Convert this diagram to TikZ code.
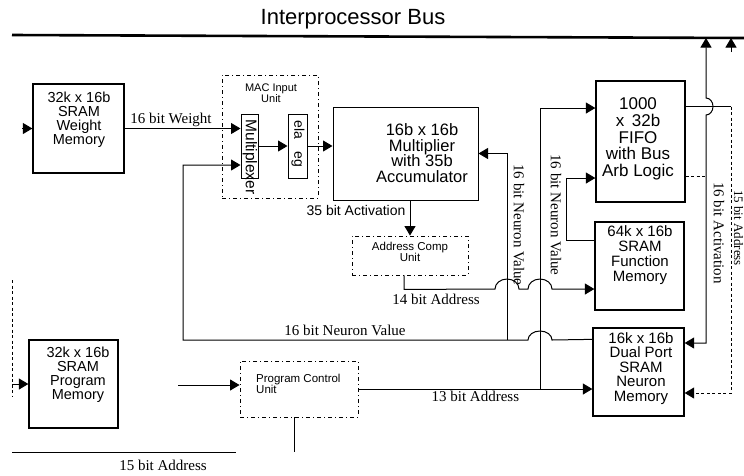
\documentclass[tikz,border=0pt]{standalone}
\usepackage{fontspec}
\setmainfont{Liberation Serif}
\newfontfamily\arial{Liberation Sans}
\usetikzlibrary{arrows.meta,positioning,calc}
\tikzset{
  unit/.style={draw,line width=1.3pt,inner sep=0pt},
  ctrlunit/.style={draw,line width=0.9pt,inner sep=0pt,dash pattern=on 4pt off 3pt on 1pt off 3pt},
  memtext/.style={font=\arial\fontsize{14.5}{14}\selectfont,align=center,inner sep=0pt},
  bigtext/.style={font=\arial\fontsize{16.5}{15.8}\selectfont,align=center,inner sep=0pt},
  smalltext/.style={font=\arial\fontsize{11}{11}\selectfont,align=center,inner sep=0pt},
  wire/.style={line width=1pt},
  sig/.style={wire,-{Triangle[length=9.5pt,width=11pt]}},
  bisig/.style={wire,{Triangle[length=9.5pt,width=11pt]}-{Triangle[length=9.5pt,width=11pt]}},
  buslabel/.style={font=\fontsize{15}{15}\selectfont,inner sep=1pt},
  thinbus/.style={wire,dash pattern=on 3pt off 2.5pt}
}
\begin{document}
\begin{tikzpicture}[x=1pt,y=-1pt]
\useasboundingbox (0,0) rectangle (744,475);
% interprocessor bus
\coordinate (busl) at (12,35);
\coordinate (busr) at (744,38);
\draw[line width=2.6pt] (busl) -- (busr);
\node[font=\arial\fontsize{22}{22}\selectfont] (bustitle) at (353,19) {Interprocessor Bus};

% memories and units
\node[unit,minimum width=91pt,minimum height=89pt] (wm) at (78.5,128.5) {};
\node[memtext,anchor=north] (wmtxt) at (79,92) {32k x 16b\\SRAM\\Weight\\Memory};
\node[unit,minimum width=89pt,minimum height=88pt] (pm) at (73.5,384) {};
\node[memtext,anchor=north] (pmtxt) at (78,347) {32k x 16b\\SRAM\\Program\\Memory};
\node[ctrlunit,minimum width=96pt,minimum height=123pt] (mac) at (270,136.5) {};
\node[smalltext] (mactxt) at (271,93) {MAC Input\\Unit};
\node[unit,line width=1pt,minimum width=17pt,minimum height=64pt] (mux) at (249.5,146) {};
\node[font=\arial\fontsize{15.5}{15.5}\selectfont,rotate=-90,inner sep=0pt] (muxtxt) at (250,157) {Multiplexer};
\node[unit,line width=1pt,minimum width=19pt,minimum height=64pt] (reg) at (297.5,146) {};
\node[font=\arial\fontsize{14}{14}\selectfont,rotate=-90,inner sep=0pt] (regtxt) at (298,144) {ela\hspace{12pt}eg};
\node[unit,line width=1pt,minimum width=145pt,minimum height=93pt] (mult) at (405.5,153.5) {};
\node[bigtext] (multtxt) at (422,153) {16b x 16b\\Multiplier\\with 35b\\Accumulator};
\node[ctrlunit,minimum width=116pt,minimum height=39pt] (acu) at (410,255.5) {};
\node[smalltext,font=\arial\fontsize{11.5}{11}\selectfont] (acutxt) at (410,252) {Address Comp\\Unit};
\node[ctrlunit,minimum width=118pt,minimum height=56pt] (pcu) at (299,389) {};
\node[smalltext,font=\arial\fontsize{11.5}{11}\selectfont,align=left,anchor=north west] (pcutxt) at (256,374) {Program Control\\Unit};
\node[unit,minimum width=89pt,minimum height=121pt] (fifo) at (640.5,141.5) {};
\node[bigtext,font=\arial\fontsize{17}{16.7}\selectfont] (fifotxt) at (638,139) {1000\\x\, 32b\\FIFO\\with Bus\\Arb Logic};
\node[unit,minimum width=89pt,minimum height=88pt] (fm) at (639.5,266) {};
\node[memtext,font=\arial\fontsize{15}{15}\selectfont,anchor=north] (fmtxt) at (640,225) {64k x 16b\\SRAM\\Function\\Memory};
\node[unit,minimum width=91pt,minimum height=88pt] (dp) at (638.5,372) {};
\node[memtext,font=\arial\fontsize{15}{14.5}\selectfont,anchor=north] (dptxt) at (641,332) {16k x 16b\\Dual Port\\SRAM\\Neuron\\Memory};

% weights into the MAC
\coordinate (wmin) at (22,128.5);
\draw[sig] (wmin) -- (wm.west);
\draw[sig] (wm.east) -- ($(mux.west)+(0,-17.5)$) node[buslabel,pos=0.4,above=0pt] (wlbl) {16 bit Weight};
\draw[sig] (mux.east) -- (reg.west);
\draw[sig] (reg.east) -- (reg.east -| mult.west);
\draw[sig] (acu.north |- mult.south) -- (acu.north);
\node[font=\arial\fontsize{14}{14}\selectfont,inner sep=0pt] (actout) at (356,210) {35 bit Activation};

% 14 bit address to function memory
\draw[sig] ($(acu.south)+(-6,0)$) -- ++(0,14) -- (495,289)
  arc[start angle=180,end angle=0,x radius=12pt,y radius=10pt] -- (528,289)
  arc[start angle=180,end angle=0,x radius=12pt,y radius=10pt] -- ($(fm.west)+(0,23)$);
\node[buslabel] (adr14) at (436,299) {14 bit Address};

% 13 bit address
\draw[sig] (pcu.east) -- (pcu.east -| dp.west) node[buslabel,pos=0.5,below=1pt] (adr13) {13 bit Address};
\coordinate (adrj) at (540,389);
\draw[sig] (adrj) |- ($(fifo.west)+(0,-33.5)$);

% function memory to fifo
\draw[sig] ($(fm.west)+(0,-26)$) -- (566,240) |- ($(fifo.west)+(0,36.5)$);
\node[buslabel,rotate=-90] (nvlbl2) at (556,215) {16 bit Neuron Value};

% neuron value loop
\coordinate (nvj) at (507,340);
\draw[sig] ($(dp.north west)+(0,12)$) -- (552,340)
  arc[start angle=0,end angle=180,x radius=12pt,y radius=9pt] -- (nvj) -- (183,340) -- (183,165) -- ($(mux.west)+(0,19)$);
\draw[sig] (nvj) |- (mult.east);
\node[buslabel] (nvlbl) at (345,330) {16 bit Neuron Value};
\node[buslabel,rotate=-90] (nvlbl1) at (519,225) {16 bit Neuron Value};

% fifo and bus taps
\coordinate (fifoj) at (731,106.5);
\coordinate (tapa) at (706,38);
\coordinate (tapb) at (731,38);
\coordinate (tapbin) at (731,52);
\draw[wire] ($(fifo.east)+(0,-35)$) -- (fifoj);
\draw[sig,thinbus] (fifoj) |- ($(dp.east)+(0,21)$);
\draw[bisig] ($(dp.east)+(0,-29)$) -| (706,115)
  arc[start angle=-90,end angle=90,x radius=7pt,y radius=8.5pt] -- (tapa);
\draw[sig] (tapbin) -- (tapb);
\draw[thinbus] ($(fifo.east)+(0,34.5)$) -- (706,176);
\node[buslabel,rotate=-90] (actlbl) at (719,233) {16 bit Activation};
\node[buslabel,font=\fontsize{13}{13}\selectfont,inner sep=0pt,rotate=-90] (adrlbl) at (738.5,228) {15 bit Address};

% program side
\coordinate (pmbusa) at (12,280);
\coordinate (pmbusb) at (12,397);
\coordinate (pmin) at (12,384);
\coordinate (pcuin) at (178,385);
\coordinate (adr15a) at (12,452);
\coordinate (adr15b) at (236,452);
\draw[thinbus] (pmbusa) -- (pmbusb);
\draw[sig] (pmin) -- (pm.west);
\draw[sig] (pcuin) -- ($(pcu.west)+(0,-4)$);
\draw[wire] ($(pcu.south)+(-5,0)$) -- ++(0,35);
\draw[wire] (adr15a) -- (adr15b);
\node[buslabel] (adr15) at (163,465) {15 bit Address};
\end{tikzpicture}
\end{document}
